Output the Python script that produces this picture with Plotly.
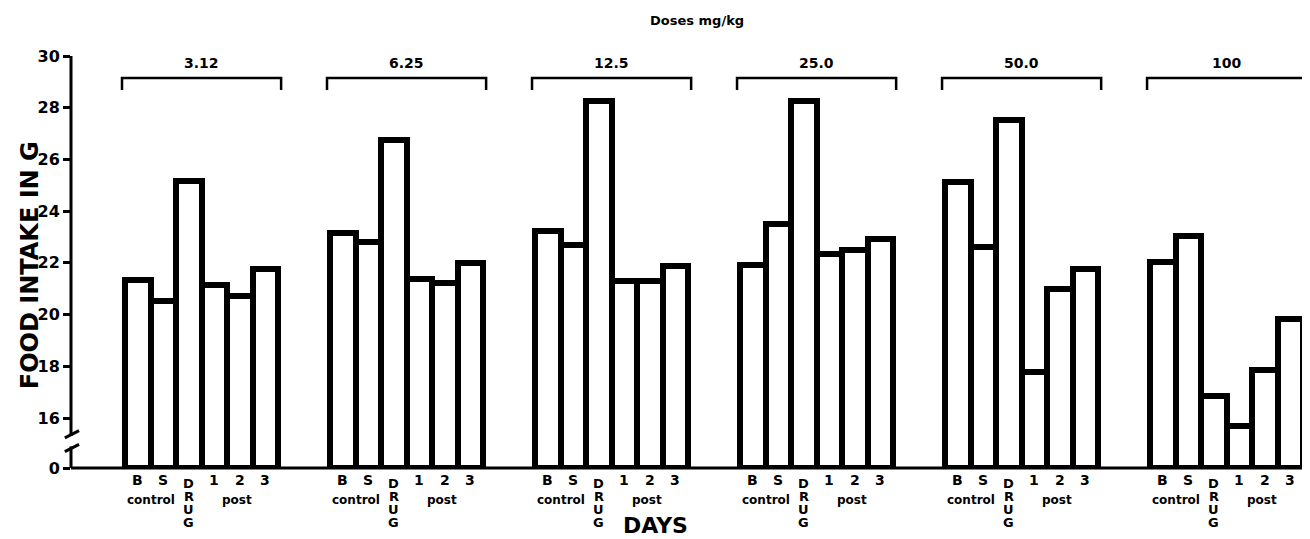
import plotly.graph_objects as go

# ---------------- data ----------------
doses = ["3.12", "6.25", "12.5", "25.0", "50.0", "100"]
days = ["B", "S", "DRUG", "1", "2", "3"]
dose_312 = [21.34, 20.53, 25.17, 21.14, 20.72, 21.76]
dose_625 = [23.16, 22.80, 26.76, 21.38, 21.22, 22.00]
dose_125 = [23.22, 22.68, 28.25, 21.29, 21.29, 21.89]
dose_250 = [21.93, 23.50, 28.25, 22.34, 22.51, 22.94]
dose_500 = [25.13, 22.61, 27.51, 17.77, 21.00, 21.78]
dose_100 = [22.03, 23.03, 16.84, 15.68, 17.87, 19.84]
groups = [dose_312, dose_625, dose_125, dose_250, dose_500, dose_100]
y_ticks = [16, 18, 20, 22, 24, 26, 28, 30]

# ---------------- layout constants ----------------
BASE = 14.067          # where the broken axis shows "0"
YMIN, YMAX = BASE, 30.62
GROUP_STEP = 8.04
XMIN, XMAX = -2.62, 45.97
BOLD = "DejaVu Sans"


def py(v):
    return (v - YMIN) / (YMAX - YMIN)


xs, ys = [], []
for g, vals in enumerate(groups):
    for i, v in enumerate(vals):
        xs.append(g * GROUP_STEP + i)
        ys.append(v)

fig = go.Figure()
fig.add_trace(go.Bar(
    x=xs, y=[v - BASE for v in ys], base=BASE, width=1.0,
    marker=dict(color="white", line=dict(color="black", width=6)),
    cliponaxis=False, showlegend=False,
    hovertext=[f"{v:.2f}" for v in ys], hoverinfo="text",
))

shapes = []
annotations = []

# axis line with break
brk_hi, brk_lo = 15.3, 14.9
shapes.append(dict(type="line", xref="paper", yref="paper", x0=0, x1=0,
                   y0=py(brk_hi), y1=py(30), line=dict(color="black", width=3)))
shapes.append(dict(type="line", xref="paper", yref="paper", x0=0, x1=0,
                   y0=0, y1=py(brk_lo), line=dict(color="black", width=3)))
for yy in (15.23, 14.70):
    shapes.append(dict(type="line", xref="paper", yref="paper",
                       x0=-0.005, x1=0.0065, y0=py(yy), y1=py(yy + 0.28),
                       line=dict(color="black", width=3)))
# baseline
shapes.append(dict(type="line", xref="paper", yref="paper", x0=0, x1=1,
                   y0=0, y1=0, line=dict(color="black", width=3)))

for g, dose in enumerate(doses):
    x0 = g * GROUP_STEP - 0.62
    x1 = g * GROUP_STEP + 5.62
    shapes.append(dict(type="path", xref="x", yref="y",
                       path=f"M {x0},28.69 L {x0},29.15 L {x1},29.15 L {x1},28.69",
                       line=dict(color="black", width=2.5)))
    annotations.append(dict(x=g * GROUP_STEP + 2.5, y=29.72, xref="x", yref="y",
                            text=f"<b>{dose}</b>", showarrow=False,
                            font=dict(family=BOLD, size=14, color="black")))
    for i, d in enumerate(days):
        xc = g * GROUP_STEP + i
        if d == "DRUG":
            for k, ch in enumerate(d):
                annotations.append(dict(x=xc, y=0, xref="x", yref="paper",
                                        text=f"<b>{ch}</b>", showarrow=False,
                                        yanchor="middle", yshift=-(15 + k * 13),
                                        font=dict(family=BOLD, size=13, color="black")))
        else:
            annotations.append(dict(x=xc, y=0, xref="x", yref="paper",
                                    text=f"<b>{d}</b>", showarrow=False,
                                    yanchor="middle", yshift=-12,
                                    font=dict(family=BOLD, size=14, color="black")))
    annotations.append(dict(x=g * GROUP_STEP + 0.5, y=0, xref="x", yref="paper",
                            text="<b>control</b>", showarrow=False,
                            yanchor="middle", yshift=-32,
                            font=dict(family=BOLD, size=12, color="black")))
    annotations.append(dict(x=g * GROUP_STEP + 3.9, y=0, xref="x", yref="paper",
                            text="<b>post</b>", showarrow=False,
                            yanchor="middle", yshift=-32,
                            font=dict(family=BOLD, size=12, color="black")))

annotations.append(dict(x=0.472, y=0, xref="paper", yref="paper", text="<b>DAYS</b>",
                        showarrow=False, yanchor="middle", yshift=-57,
                        font=dict(family=BOLD, size=22, color="black")))
annotations.append(dict(x=0.505, y=1, xref="paper", yref="paper", text="<b>Doses mg/kg</b>",
                        showarrow=False, yanchor="middle", yshift=20,
                        font=dict(family=BOLD, size=13, color="black")))
annotations.append(dict(x=-0.033, y=0.474, xref="paper", yref="paper",
                        xanchor="center", yanchor="middle",
                        text="<b>FOOD INTAKE IN G</b>", textangle=-90, showarrow=False,
                        font=dict(family=BOLD, size=24, color="black")))

# the page body has an 8px margin, so the figure is shifted by 8px
fig.update_layout(
    width=1302, height=531,
    margin=dict(l=63, r=0, t=32, b=71),
    paper_bgcolor="white", plot_bgcolor="white",
    xaxis=dict(range=[XMIN, XMAX], showticklabels=False, showgrid=False,
               zeroline=False, showline=False, ticks=""),
    yaxis=dict(range=[YMIN, YMAX], tickvals=[BASE] + y_ticks,
               ticktext=["0"] + [str(t) for t in y_ticks],
               showgrid=False, zeroline=False, showline=False,
               ticks="outside", ticklen=7, tickwidth=2.5, tickcolor="black",
               tickfont=dict(family=BOLD, size=16, color="black", weight="bold")),
    shapes=shapes, annotations=annotations,
    bargap=0,
)

fig.write_html("out.html")
